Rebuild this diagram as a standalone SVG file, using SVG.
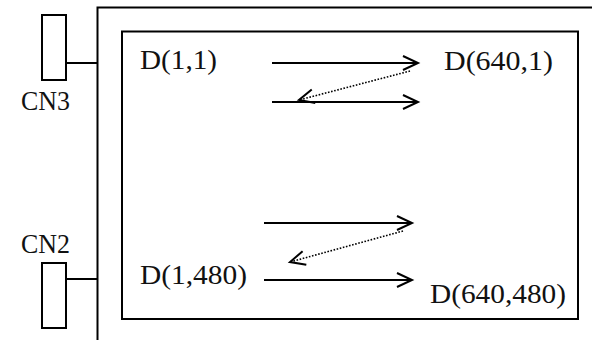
<svg xmlns="http://www.w3.org/2000/svg" width="592" height="340" viewBox="0 0 592 340">
<style>
.ln{stroke:#000;stroke-width:2;fill:none}
.box{stroke:#000;stroke-width:2;fill:#fff}
.arr{stroke:#000;stroke-width:2;fill:none;marker-end:url(#ah)}
.dot{stroke:#000;stroke-width:1.6;fill:none;stroke-dasharray:1.6,1.6;marker-end:url(#ahs)}
.t{font-family:"Liberation Serif","Times New Roman",serif;font-size:28px;fill:#111}
</style>
<defs>
<marker id="ah" markerUnits="userSpaceOnUse" markerWidth="18" markerHeight="16" refX="15" refY="7" orient="auto" overflow="visible">
<path d="M0,0 L15,7 L0,14" fill="none" stroke="#000" stroke-width="2"/>
</marker>
<marker id="ahs" markerUnits="userSpaceOnUse" markerWidth="18" markerHeight="16" refX="15" refY="7" orient="auto" overflow="visible">
<path d="M0,0 L15,7 L0,14" fill="none" stroke="#000" stroke-width="2"/>
</marker>
</defs>
<g id="panel">
<path class="ln" d="M97.5,340 V7.5 H592"/>
</g>
<g id="screen">
<rect class="box" x="122" y="31.5" width="456" height="287.5"/>
</g>
<g id="cn3">
<rect class="box" x="42" y="15" width="24" height="65"/>
<text class="t" x="21" y="110" textLength="49" lengthAdjust="spacingAndGlyphs">CN3</text>
</g>
<g id="cn2">
<rect class="box" x="42" y="263" width="24" height="65"/>
<text class="t" x="21" y="253" textLength="49" lengthAdjust="spacingAndGlyphs">CN2</text>
</g>
<g id="labels">
<text class="t" x="140" y="69" textLength="77" lengthAdjust="spacingAndGlyphs">D(1,1)</text>
<text class="t" x="444" y="70" textLength="109" lengthAdjust="spacingAndGlyphs">D(640,1)</text>
<text class="t" x="140" y="284" textLength="107" lengthAdjust="spacingAndGlyphs">D(1,480)</text>
<text class="t" x="430" y="303" textLength="136" lengthAdjust="spacingAndGlyphs">D(640,480)</text>
</g>
<g id="connectors">
<line class="ln" x1="66" y1="63" x2="97.5" y2="63"/>
<line class="ln" x1="66" y1="279" x2="97.5" y2="279"/>
<line class="arr" x1="272" y1="63" x2="418" y2="63"/>
<line class="arr" x1="272" y1="102" x2="418" y2="102"/>
<line class="dot" x1="410" y1="71" x2="299" y2="100"/>
<line class="arr" x1="264" y1="223" x2="412" y2="223"/>
<line class="dot" x1="403" y1="231" x2="290" y2="262"/>
<line class="arr" x1="264" y1="280" x2="412" y2="280"/>
</g>
</svg>
